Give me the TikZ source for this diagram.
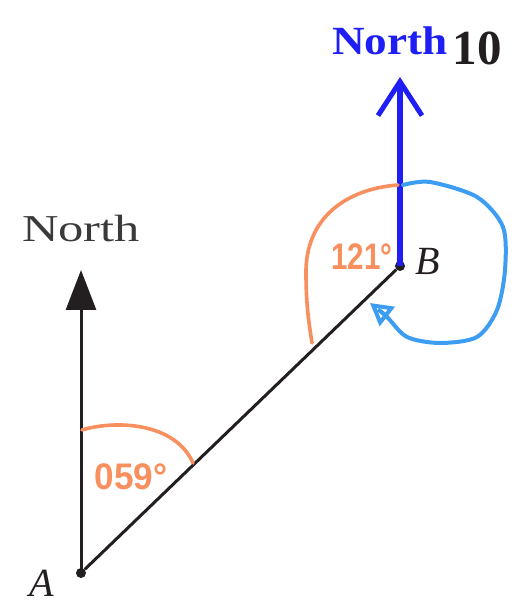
\documentclass[tikz,border=0pt]{standalone}
\usepackage{fontspec}
\usepackage{graphicx}
\setmainfont{Liberation Serif}
\newfontfamily\anglefont{Liberation Sans}
\usetikzlibrary{arrows.meta}

\begin{document}
\begin{tikzpicture}[x=1pt, y=1pt]

% ---------------------------------------------------------------- colours
\definecolor{ink}{HTML}{231F20}      % the bearing line, north at A
\definecolor{labelgray}{HTML}{3A3A3A}
\definecolor{c1}{HTML}{1E1EF5}       % north at B (drawn over)
\definecolor{c2}{HTML}{F88F5E}       % the two angles
\definecolor{c3}{HTML}{3D9DF2}       % the turn at B

% ================================================================
% Geometry, one unit = one pixel of the 513 x 604 frame, y upward.
%
%   A = (81, 31),  B = (400, 338)
%   north at A ends at y = 334, north at B ends at y = 527
%   arcs and the loop are traced by hand, so they are free curves
% ================================================================

\useasboundingbox (0,0) rectangle (513,604);

\tikzset{
    dot/.style={circle, fill=ink, inner sep=0pt, minimum size=10pt},
    bearing/.style={draw=ink, line width=3pt},
    northarrow/.style={draw=ink, line width=3pt,
        -{Triangle[length=40pt, width=30pt]}},
    drawnnorth/.style={draw=c1, line width=5.5pt,
        -{Straight Barb[length=34pt, width=44pt, line width=5pt]}},
    anglearc/.style={draw=c2, line width=3.6pt, line cap=round},
    turnloop/.style={draw=c3, line width=4pt, line cap=round,
        -{Triangle[open, length=22pt, width=24pt, line width=4pt]}},
    angletext/.style={font=\anglefont\bfseries\fontsize{37}{37}\selectfont,
        text=c2, inner sep=0pt, anchor=base},
    pointname/.style={font=\itshape\fontsize{40}{40}\selectfont,
        text=ink, inner sep=0pt, anchor=base},
}

% ---------------------------------------------------------------- points
\node[dot] (A) at (81, 31) {};
\node[dot] (B) at (400, 338) {};
\coordinate (nA) at (81, 334);
\coordinate (nB) at (400, 527);

% ---------------------------------------------------------------- lines
\draw[bearing] (A) -- (B);
\draw[northarrow] (A.center) -- (nA);
\draw[drawnnorth] (B.center) -- (nB);

% ---------------------------------------------------------------- angles
\draw[anglearc] (82,174) .. controls (115,184) and (175,182) .. (193,141);
\draw[anglearc] (398,419) .. controls (345,415) and (305,385) .. (306,330)
    .. controls (306,300) and (309,280) .. (312,261);
\draw[turnloop] plot[smooth] coordinates
    {(403,419) (430,422) (477,407) (503,377) (505,334) (497,294)
     (477,267) (440,261) (407,267) (387,287) (370,301)};

% ---------------------------------------------------------------- labels
\node[angletext] (ang059) at (131, 114) {\scalebox{0.95}[1]{059°}};
\node[angletext] (ang121) at (362, 334) {\scalebox{0.8}[1]{121°}};
\node[pointname] (labA) at (42, 8) {A};
\node[pointname] (labB) at (428, 329) {B};

\node[font=\fontsize{38}{38}\selectfont, text=labelgray, inner sep=0pt,
    anchor=base] (northA) at (81, 362) {\scalebox{1.33}[1]{North}};
\node[font=\bfseries\fontsize{40}{40}\selectfont, text=c1, inner sep=0pt,
    anchor=base] (northB) at (390, 549) {\scalebox{1.13}[1]{North}};
\node[font=\bfseries\fontsize{49}{49}\selectfont, text=ink, inner sep=0pt,
    anchor=base] (ten) at (477, 539) {10};

\end{tikzpicture}
\end{document}
